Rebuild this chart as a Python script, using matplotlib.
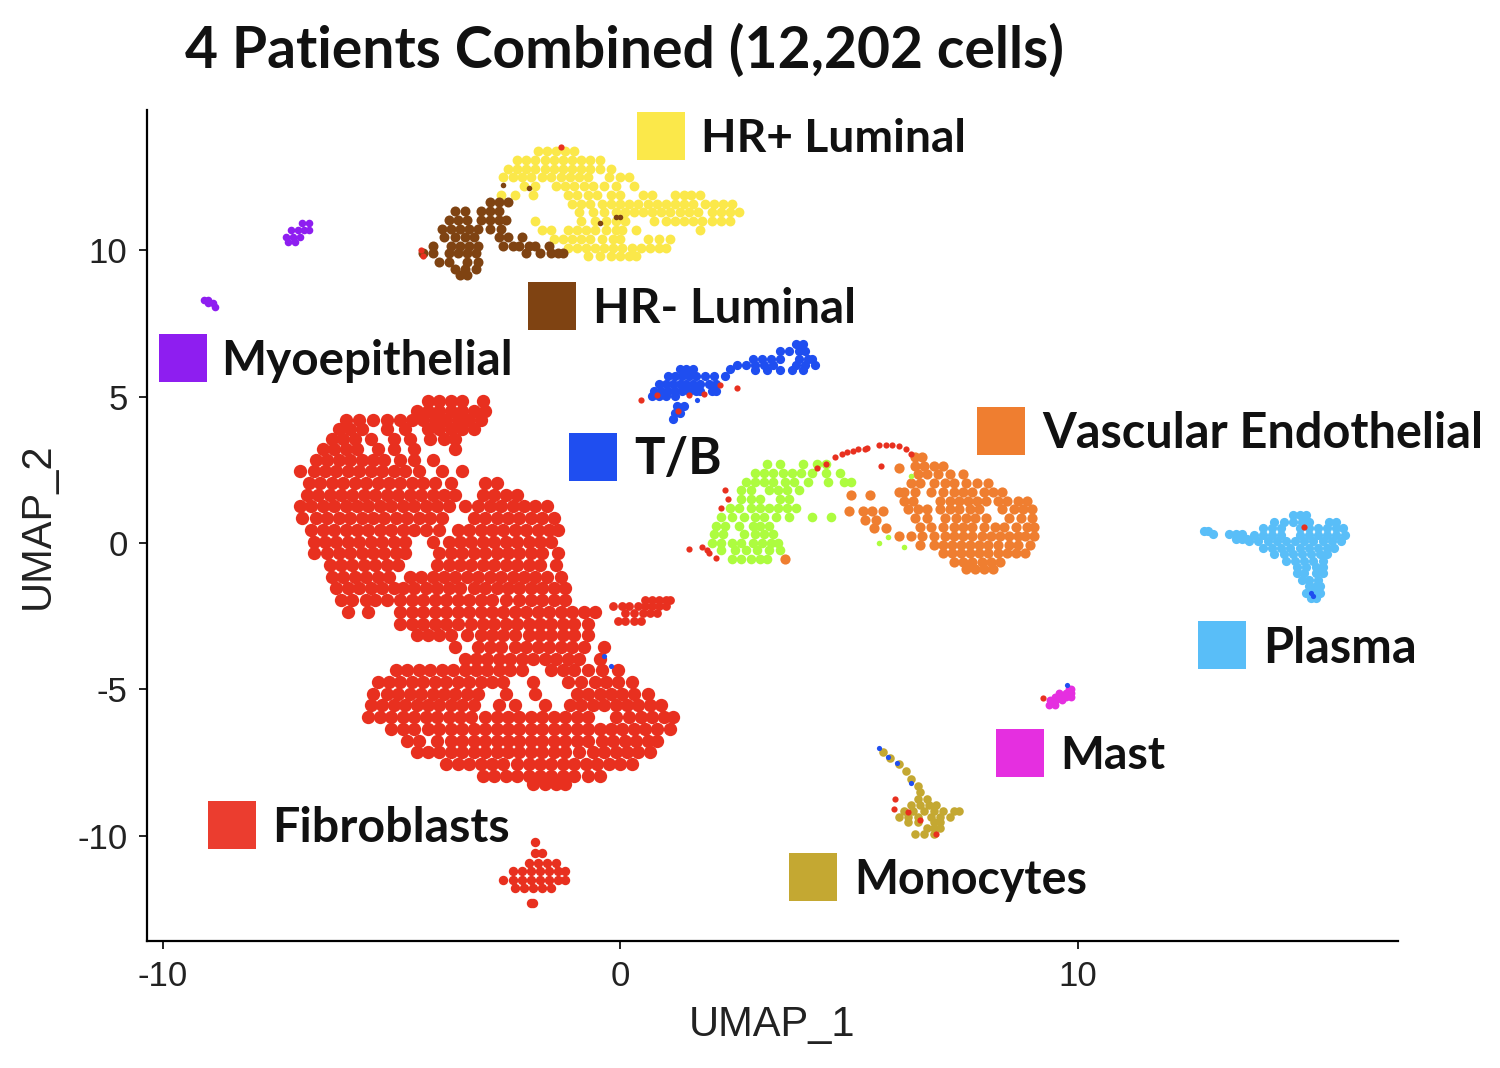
import matplotlib
matplotlib.use("Agg")
import matplotlib.pyplot as plt

fibroblast_rows = [
 (4.85,[-4.2,-3.95,-3.7,-3.45,-3.0]),
 (4.5,[-4.45,-4.2,-3.95,-3.7,-3.45,-3.2,-2.95]),
 (4.2,[-6.0,-5.7,-5.4,-5.1,-4.8,-4.55,-4.3,-4.05,-3.8,-3.55,-3.3,-3.05]),
 (3.9,[-6.15,-5.9,-5.65,-5.1,-4.7,-4.2,-3.95,-3.7,-3.45,-3.2]),
 (3.55,[-6.3,-6.05,-5.8,-5.45,-4.95,-4.6,-4.15,-3.85,-3.6]),
 (3.2,[-6.5,-6.25,-6.0,-5.75,-5.3,-4.95,-4.5,-3.6]),
 (2.85,[-6.65,-6.4,-6.15,-5.9,-5.65,-5.4,-5.15,-4.8,-4.5,-4.1]),
 (2.45,[-7.0,-6.7,-6.45,-6.2,-5.95,-5.7,-5.45,-5.2,-4.95,-4.7,-4.4,-3.9,-3.45]),
 (2.05,[-6.8,-6.55,-6.3,-6.05,-5.8,-5.55,-5.3,-5.05,-4.8,-4.55,-4.3,-4.05,-3.7,-2.95,-2.7]),
 (1.65,[-6.85,-6.6,-6.35,-6.1,-5.85,-5.6,-5.35,-5.1,-4.85,-4.6,-4.35,-4.1,-3.85,-3.6,-3.0,-2.75,-2.5,-2.25]),
 (1.25,[-7.0,-6.75,-6.5,-6.25,-6.0,-5.75,-5.5,-5.25,-5.0,-4.75,-4.5,-4.25,-4.0,-3.75,-3.4,-3.1,-2.85,-2.6,-2.35,-2.1,-1.85,-1.6]),
 (0.85,[-6.95,-6.65,-6.4,-6.15,-5.9,-5.65,-5.4,-5.15,-4.9,-4.65,-4.4,-4.15,-3.9,-3.2,-2.95,-2.7,-2.45,-2.2,-1.95,-1.7,-1.45]),
 (0.45,[-6.75,-6.5,-6.25,-6.0,-5.75,-5.5,-5.25,-5.0,-4.75,-4.5,-4.25,-3.95,-3.55,-3.3,-3.05,-2.8,-2.55,-2.3,-2.05,-1.8,-1.55,-1.35]),
 (0.05,[-6.7,-6.45,-6.2,-5.95,-5.7,-5.45,-5.2,-4.95,-4.7,-4.1,-3.75,-3.5,-3.25,-3.0,-2.75,-2.5,-2.25,-2.0,-1.75,-1.5]),
 (-0.35,[-6.7,-6.4,-6.15,-5.9,-5.65,-5.4,-5.15,-4.9,-4.7,-3.95,-3.7,-3.45,-3.2,-2.95,-2.7,-2.45,-2.2,-1.95,-1.7,-1.35]),
 (-0.75,[-6.35,-6.1,-5.85,-5.6,-5.35,-5.1,-4.85,-4.0,-3.75,-3.5,-3.25,-3.0,-2.75,-2.5,-2.25,-2.0,-1.75,-1.4]),
 (-1.15,[-6.3,-6.05,-5.8,-5.55,-5.3,-5.05,-4.6,-4.35,-4.1,-3.85,-3.6,-3.35,-3.1,-2.85,-2.6,-2.35,-2.1,-1.85,-1.6,-1.3]),
 (-1.55,[-6.2,-5.95,-5.7,-5.45,-5.2,-4.95,-4.75,-4.5,-4.25,-4.0,-3.75,-3.5,-3.2,-2.95,-2.7,-2.45,-2.2,-1.95,-1.7,-1.45,-1.2]),
 (-1.95,[-6.1,-5.85,-5.55,-5.35,-5.1,-4.8,-4.55,-4.3,-4.05,-3.8,-3.55,-3.3,-3.05,-2.8,-2.5,-2.2,-1.95,-1.7,-1.45,-1.2]),
 (-2.35,[-5.95,-5.5,-4.8,-4.55,-4.3,-4.05,-3.8,-3.55,-3.3,-3.05,-2.8,-2.55,-2.3,-2.05,-1.8,-1.55,-1.3,-1.05,-0.8,-0.55]),
 (-2.75,[-4.8,-4.55,-4.3,-4.05,-3.8,-3.55,-3.25,-3.0,-2.75,-2.5,-2.25,-2.0,-1.75,-1.5,-1.25,-1.0,-0.7]),
 (-3.15,[-4.45,-4.2,-3.95,-3.7,-3.35,-3.05,-2.8,-2.55,-2.3,-2.0,-1.75,-1.5,-1.25,-1.0,-0.7]),
 (-3.55,[-3.6,-3.1,-2.85,-2.6,-2.3,-2.05,-1.8,-1.55,-1.3,-1.05,-0.8,-0.35]),
 (-3.95,[-3.4,-3.15,-2.9,-2.65,-2.4,-2.15,-1.9,-1.65,-1.4,-1.15,-0.9,-0.45]),
 (-4.35,[-4.9,-4.65,-4.4,-4.15,-3.9,-3.65,-3.4,-3.15,-2.9,-2.65,-2.4,-2.15,-1.5,-1.25,-1.0,-0.7,-0.4,-0.05]),
 (-4.75,[-5.3,-5.05,-4.8,-4.55,-4.3,-4.05,-3.8,-3.55,-3.3,-3.05,-2.8,-2.55,-1.9,-1.15,-0.85,-0.55,-0.3,-0.05,0.25]),
 (-5.15,[-5.4,-5.1,-4.85,-4.6,-4.35,-4.1,-3.85,-3.6,-3.35,-3.1,-2.5,-1.85,-0.95,-0.7,-0.45,-0.2,0.05,0.3,0.6]),
 (-5.55,[-5.45,-5.2,-4.95,-4.7,-4.45,-4.2,-3.95,-3.7,-3.45,-3.2,-2.65,-2.3,-1.65,-1.1,-0.85,-0.6,-0.35,-0.1,0.15,0.4,0.65,0.9]),
 (-5.95,[-5.5,-5.25,-5.0,-4.75,-4.5,-4.25,-4.0,-3.75,-3.5,-3.25,-2.95,-2.7,-2.45,-2.2,-1.95,-1.7,-1.45,-1.2,-0.95,-0.7,-0.1,0.2,0.45,0.7,0.95,1.15]),
 (-6.35,[-5.0,-4.75,-4.5,-4.2,-3.95,-3.7,-3.45,-3.2,-2.95,-2.7,-2.45,-2.2,-1.95,-1.7,-1.45,-1.2,-0.95,-0.7,-0.45,-0.2,0.05,0.3,0.55,0.8,1.1]),
 (-6.75,[-4.65,-4.4,-4.0,-3.7,-3.45,-3.2,-2.95,-2.7,-2.45,-2.2,-1.95,-1.7,-1.45,-1.2,-0.95,-0.7,-0.4,-0.15,0.1,0.35,0.6,0.8]),
 (-7.15,[-4.45,-4.2,-3.95,-3.7,-3.45,-3.2,-2.95,-2.7,-2.45,-2.2,-1.95,-1.7,-1.45,-1.2,-0.9,-0.6,-0.35,-0.1,0.15,0.4,0.65]),
 (-7.55,[-3.8,-3.55,-3.3,-3.05,-2.8,-2.55,-2.25,-2.0,-1.75,-1.5,-1.25,-1.0,-0.75,-0.5,-0.25,0.0,0.25]),
 (-7.95,[-3.0,-2.75,-2.5,-2.25,-2.0,-1.75,-1.5,-1.25,-1.0,-0.7,-0.45]),
 (-8.25,[-1.9,-1.65,-1.4,-1.2]),
]
fibroblast_tail_rows = [
 (-1.95,[0.55,0.7,0.85,1.0,1.1]),
 (-2.15,[-0.15,0.05,0.2,0.4,0.55,0.7,0.85,1.0]),
 (-2.4,[0.1,0.3,0.5,0.65,0.8]),
 (-2.65,[-0.05,0.1,0.3,0.45]),
]
fibroblast_lower_rows = [
 (-10.2,[-1.85]),
 (-10.6,[-1.85,-1.7]),
 (-10.95,[-2.0,-1.8,-1.6,-1.4]),
 (-11.2,[-2.35,-2.15,-1.95,-1.75,-1.55,-1.35,-1.2]),
 (-11.5,[-2.55,-2.35,-2.15,-1.95,-1.75,-1.55,-1.35,-1.2]),
 (-11.8,[-2.3,-2.1,-1.9,-1.7,-1.5]),
 (-12.3,[-1.95,-1.9]),
]
red_stray_x = [4.3,4.5,4.7,4.85,4.95,5.1,5.2,5.35,5.4,5.65,5.8,5.95,6.1,6.25,6.35,5.7,
               2.3,2.36,2.2,1.5,1.8,1.9,1.95,2.1,0.46,2.18,2.55,0.8,1.5,1.83,1.27,
               9.25,6.0,6.3,6.55,5.98,6.9,14.95,-4.35,-4.3,-1.3]
red_stray_y = [2.55,2.7,2.95,3.05,3.1,3.15,3.2,3.2,3.25,3.35,3.35,3.35,3.3,3.2,3.05,2.65,
               1.8,1.5,1.2,-0.2,-0.15,-0.25,-0.35,-0.5,4.88,5.4,5.3,5.05,5.05,5.1,4.5,
               -5.29,-8.75,-9.2,-9.45,-9.1,-9.95,0.55,10.0,9.8,13.55]

hr_pos_rows = [
 (13.4,[-1.8,-1.6,-1.4,-1.2,-1.0]),
 (13.1,[-2.25,-2.05,-1.85,-1.65,-1.45,-1.25,-1.05,-0.85,-0.65,-0.45]),
 (12.8,[-2.45,-2.25,-2.05,-1.85,-1.65,-1.45,-1.25,-1.05,-0.85,-0.65,-0.45,-0.2]),
 (12.5,[-2.55,-2.35,-2.15,-1.95,-1.7,-1.5,-1.3,-1.1,-0.9,-0.7,-0.25,0.0,0.2]),
 (12.2,[-2.1,-1.85,-1.4,-1.2,-1.0,-0.8,-0.6,-0.35,-0.1,0.3]),
 (11.9,[-2.6,-2.3,-1.9,-1.15,-0.95,-0.7,-0.5,-0.2,0.0,0.5,0.7,1.2,1.4,1.55,1.75]),
 (11.6,[-1.05,-0.85,-0.65,-0.4,-0.2,0.0,0.2,0.4,0.6,0.8,1.0,1.2,1.4,1.6,1.85,2.05,2.25,2.45]),
 (11.3,[-0.9,-0.6,-0.35,-0.1,0.1,0.3,0.5,0.7,0.9,1.1,1.3,1.5,1.7,2.0,2.2,2.4,2.6]),
 (11.0,[-1.85,-0.85,-0.55,-0.3,-0.1,0.1,0.75,1.0,1.2,1.4,1.6,1.8,2.0,2.2,2.4]),
 (10.7,[-1.7,-1.5,-1.15,-0.95,-0.75,-0.55,-0.3,-0.1,0.05,0.35,1.75]),
 (10.4,[-1.45,-1.25,-1.05,-0.85,-0.65,-0.4,-0.15,0.0,0.6,0.85,1.1]),
 (10.1,[-1.15,-0.95,-0.75,-0.55,-0.35,-0.15,0.05,0.25,0.45,0.65,0.85,1.0]),
 (9.8,[-0.7,-0.45,-0.2,0.0,0.2,0.35]),
]
hr_neg_rows = [
 (11.65,[-2.85,-2.65,-2.45]),
 (11.35,[-3.6,-3.4,-3.05,-2.85,-2.65]),
 (11.05,[-3.75,-3.55,-3.35,-3.05,-2.85,-2.65,-2.5]),
 (10.75,[-3.9,-3.7,-3.5,-3.3,-3.1,-2.85,-2.6]),
 (10.45,[-3.85,-3.6,-3.4,-3.2,-2.65,-2.45,-2.15]),
 (10.15,[-4.1,-3.7,-3.5,-3.3,-3.1,-2.55,-2.35,-2.2,-2.0,-1.85,-1.55]),
 (9.9,[-4.3,-4.1,-3.75,-3.55,-3.35,-3.15,-2.05,-1.75,-1.5,-1.35,-1.25]),
 (9.6,[-3.95,-3.75,-3.35,-3.1]),
 (9.35,[-3.6,-3.4,-3.15]),
 (9.15,[-3.5,-3.35]),
]
brown_in_yellow_x = [-2.55,-2.0,-0.45,-0.1,0.0]
brown_in_yellow_y = [12.25,12.15,10.95,11.15,11.15]

myoepithelial_rows = [
 (10.95,[-6.95,-6.8]),
 (10.7,[-7.2,-7.05,-6.9,-6.8]),
 (10.45,[-7.3,-7.15,-7.0]),
 (10.3,[-7.25,-7.1]),
 (8.3,[-9.1,-9.0]),
 (8.2,[-9.0,-8.9]),
 (8.08,[-8.85]),
]
tb_rows = [
 (5.95,[1.3,1.45,1.6,2.4]),
 (5.7,[1.05,1.2,1.35,1.5,1.65,1.85,2.05,2.3]),
 (5.45,[0.85,1.0,1.15,1.3,1.45,1.6,1.75,1.95,2.1]),
 (5.2,[0.75,0.9,1.05,1.2,1.35,1.5,1.65,1.75,2.0,2.1]),
 (5.03,[0.7,0.85,1.0,1.2]),
 (6.8,[3.85,4.0]),
 (6.55,[3.5,3.7,3.9,4.05]),
 (6.3,[2.9,3.1,3.3,3.5,3.9,4.1,4.2]),
 (6.1,[2.55,2.75,2.95,3.15,3.35,3.85,4.05,4.25]),
 (5.93,[2.95,3.2,3.5,3.75,4.0]),
 (4.7,[1.25,1.4]),
 (4.45,[1.2,1.3]),
 (4.25,[1.15]),
]
endothelial_rows = [
 (2.7,[3.2,3.5,4.0,4.3,4.5]),
 (2.4,[2.95,3.15,3.35,3.55,3.75,3.95,4.2,4.5,4.8]),
 (2.1,[2.75,2.95,3.15,3.35,3.6,3.8,4.1,4.55,4.9,5.05]),
 (1.8,[2.65,2.85,3.25,3.45,3.65,3.9]),
 (1.5,[2.65,2.85,3.05,3.5,3.7]),
 (1.2,[2.4,2.6,2.85,3.05,3.25,3.45,3.65,3.85]),
 (0.9,[2.2,2.45,2.7,2.95,3.15,3.4,3.7,4.2,4.6]),
 (0.6,[2.1,2.3,2.6,2.9,3.05,3.25]),
 (0.3,[2.05,2.25,2.7,2.95,3.15,3.35]),
 (0.0,[2.0,2.2,2.45,2.65,2.9,3.1,3.3,3.45]),
 (-0.25,[2.2,2.5,2.75,3.0,3.25,3.5]),
 (-0.55,[2.45,2.65,2.85,3.05,3.2]),
]
lime_stray_x = [5.65,6.2,6.35,5.85]
lime_stray_y = [0.0,-0.15,2.3,0.2]
vascular_rows = [
 (2.95,[6.45,6.6]),
 (2.65,[6.45,6.65,6.85,7.05]),
 (2.35,[6.5,6.7,6.95,7.2,7.5]),
 (2.05,[6.35,6.55,6.85,7.1,7.3,7.55,7.8,8.05]),
 (1.75,[6.2,6.45,6.8,7.05,7.3,7.5,7.7,7.95,8.15,8.35,6.1]),
 (1.45,[6.2,6.4,7.0,7.2,7.4,7.6,7.8,8.0,8.25,8.45,8.7,8.9]),
 (1.15,[6.3,6.5,6.7,7.0,7.2,7.4,7.65,7.85,8.35,8.6,8.8,9.0]),
 (0.85,[6.45,6.7,7.1,7.35,7.55,7.75,8.0,8.5,8.75,9.0]),
 (0.55,[6.55,6.8,7.05,7.3,7.5,7.7,7.95,8.2,8.4,8.65,8.9,9.05]),
 (0.25,[6.1,6.35,6.6,6.85,7.1,7.3,7.5,7.7,7.9,8.1,8.3,8.5,8.7,8.85,9.05]),
 (-0.05,[6.55,6.85,7.05,7.25,7.45,7.65,7.85,8.05,8.25,8.5,8.7,8.95]),
 (-0.35,[7.05,7.25,7.45,7.65,7.85,8.05,8.25,8.45,8.65,8.85]),
 (-0.65,[7.3,7.5,7.7,7.9,8.1,8.3]),
 (-0.9,[7.55,7.75,7.95,8.15]),
 (1.1,[5.0,5.3,5.5,5.75]),
 (0.8,[5.35,5.6]),
 (0.5,[5.55,5.8]),
 (1.65,[5.45,5.05]),
 (2.55,[6.1]),
 (-0.55,[3.6]),
]
plasma_rows = [
 (0.95,[14.7,14.85,15.0]),
 (0.72,[14.3,14.5,14.7,14.9,15.05,15.5,15.65]),
 (0.5,[14.05,14.25,14.45,14.85,15.05,15.25,15.45,15.65,15.8]),
 (0.28,[13.85,14.05,14.25,14.45,14.85,15.05,15.25,15.45,15.65,15.85]),
 (0.06,[13.75,13.95,14.15,14.35,14.55,14.75,14.95,15.15,15.35,15.55,15.75]),
 (-0.16,[14.05,14.25,14.45,14.65,14.85,15.05,15.25,15.45,15.6]),
 (-0.38,[14.3,14.5,14.7,14.9,15.1,15.3,15.45]),
 (-0.6,[14.55,14.75,14.95,15.15,15.35]),
 (-0.82,[14.8,15.0,15.2,15.35]),
 (-1.04,[14.8,14.95,15.2,15.35]),
 (-1.26,[14.9,15.05,15.25]),
 (-1.48,[15.05,15.2,15.3]),
 (-1.72,[15.0,15.15,15.3]),
 (-1.88,[15.1,15.2]),
 (0.42,[12.75,12.85]),
 (0.3,[12.95,13.3,13.45,13.6]),
 (0.15,[13.45,13.6,13.7]),
]
tb_stray_x = [1.67,2.3,2.4,15.1,15.15,9.77,5.65,5.85,6.05,6.35,-0.35,-0.2]
tb_stray_y = [4.88,5.7,5.97,-1.7,-1.8,-4.85,-7.0,-7.3,-7.5,-8.2,-3.85,-4.2]
mast_rows = [
 (-4.98,[9.8,9.85]),
 (-5.12,[9.6,9.75,9.85]),
 (-5.25,[9.5,9.62,9.75,9.85]),
 (-5.38,[9.4,9.52,9.65]),
 (-5.55,[9.38,9.5]),
]
monocyte_rows = [
 (-7.15,[5.75]),(-7.35,[5.9]),(-7.55,[6.1]),(-7.8,[6.25]),(-8.05,[6.35]),(-8.3,[6.5]),(-8.5,[6.55]),
 (-8.75,[6.5,6.7]),
 (-8.95,[6.35,6.55,6.75,6.9]),
 (-9.15,[6.2,6.4,6.65,6.85,7.05,7.3,7.4]),
 (-9.35,[6.1,6.3,6.5,6.8,7.0,7.2]),
 (-9.55,[6.3,6.5,6.85,7.0]),
 (-9.75,[6.7,6.85,7.0]),
 (-9.95,[6.45,6.65,6.85]),
]
legend_labels = ["HR+ Luminal","HR- Luminal","Myoepithelial","T/B","Vascular Endothelial","Plasma","Mast","Monocytes","Fibroblasts"]
legend_colors = ["#FBE84A","#7F4312","#8E1EF0","#1F4EF0","#EF7E30","#59BEF8","#E52FE0","#C4A832","#EB3D2F"]
legend_x = [0.9,-1.49,-9.55,-0.59,8.33,13.16,8.74,4.22,-8.48]
legend_y = [13.9,8.1,6.32,2.94,3.83,-3.49,-7.18,-11.42,-9.64]
label_x = [1.77,-0.59,-8.72,0.31,9.22,14.05,9.62,5.12,-7.6]
label_size = [33.2,34.3,34.3,36.5,35,35,33.4,33.5,34.8]

plt.rcParams["axes.unicode_minus"] = False

def flat(rows):
    xs = [x for _, r in rows for x in r]
    ys = [y for y, r in rows for _ in r]
    return xs, ys

W, H = 1500, 1068
fig = plt.figure(figsize=(W/100, H/100), dpi=100)
ax = fig.add_axes([147/W, (H-941)/H, (1398-147)/W, (941-110)/H])
ax.set_xlim(-10.34, 17.0)
ax.set_ylim(-13.6, 14.8)

RED, YEL, BRN, PUR, BLU, LIM, ORG, SKY, MAG, OLV = "#E8301F","#FBE84A","#7F4312","#8E1EF0","#1F4EF0","#ADFC3F","#EF7E30","#59BEF8","#E52FE0","#C4A832"
def dots(rows, c, s):
    xs, ys = flat(rows)
    ax.scatter(xs, ys, s=s, c=c, linewidths=0, zorder=2)

dots(fibroblast_rows, RED, 92)
dots(fibroblast_tail_rows, RED, 40)
dots(fibroblast_lower_rows, RED, 46)
dots(hr_pos_rows, YEL, 50)
dots(hr_neg_rows, BRN, 52)
dots(myoepithelial_rows, PUR, 30)
dots(tb_rows, BLU, 44)
dots(endothelial_rows, LIM, 48)
dots(vascular_rows, ORG, 54)
dots(plasma_rows, SKY, 44)
dots(mast_rows, MAG, 32)
dots(monocyte_rows, OLV, 38)
ax.scatter(brown_in_yellow_x, brown_in_yellow_y, s=16, c=BRN, linewidths=0, zorder=3)
ax.scatter(red_stray_x, red_stray_y, s=20, c=RED, linewidths=0, zorder=3)
ax.scatter(tb_stray_x, tb_stray_y, s=14, c=BLU, linewidths=0, zorder=3)
ax.scatter(lime_stray_x, lime_stray_y, s=16, c=LIM, linewidths=0, zorder=3)

ax.scatter(legend_x, legend_y, s=1194, c=legend_colors, marker="s", linewidths=0, zorder=4)
for t, lx, ly, fs in zip(legend_labels, label_x, legend_y, label_size):
    ax.text(lx, ly - 0.1, t, fontsize=fs, fontfamily="Lato", fontweight="bold", color="#111111",
            va="center", ha="left", zorder=5)

for s in ("top", "right"):
    ax.spines[s].set_visible(False)
for s in ("left", "bottom"):
    ax.spines[s].set_linewidth(1.6)
ax.set_xticks([-10, 0, 10])
ax.set_yticks([-10, -5, 0, 5, 10])
ax.tick_params(length=6, width=1.4, labelsize=25, pad=8, colors="#222222")
for lab in ax.get_xticklabels() + ax.get_yticklabels():
    lab.set_fontfamily("Liberation Sans")
ax.set_xlabel("UMAP_1", fontsize=30, fontfamily="Liberation Sans", labelpad=8, color="#222222")
ax.set_ylabel("UMAP_2", fontsize=30, fontfamily="Liberation Sans", labelpad=14, color="#222222")
fig.text(185/W, (H-51)/H, "4 Patients Combined (12,202 cells)", fontsize=41, fontfamily="Lato",
         fontweight="bold", color="#111111", va="center", ha="left")
fig.savefig("out.png", dpi=100, facecolor="white")
